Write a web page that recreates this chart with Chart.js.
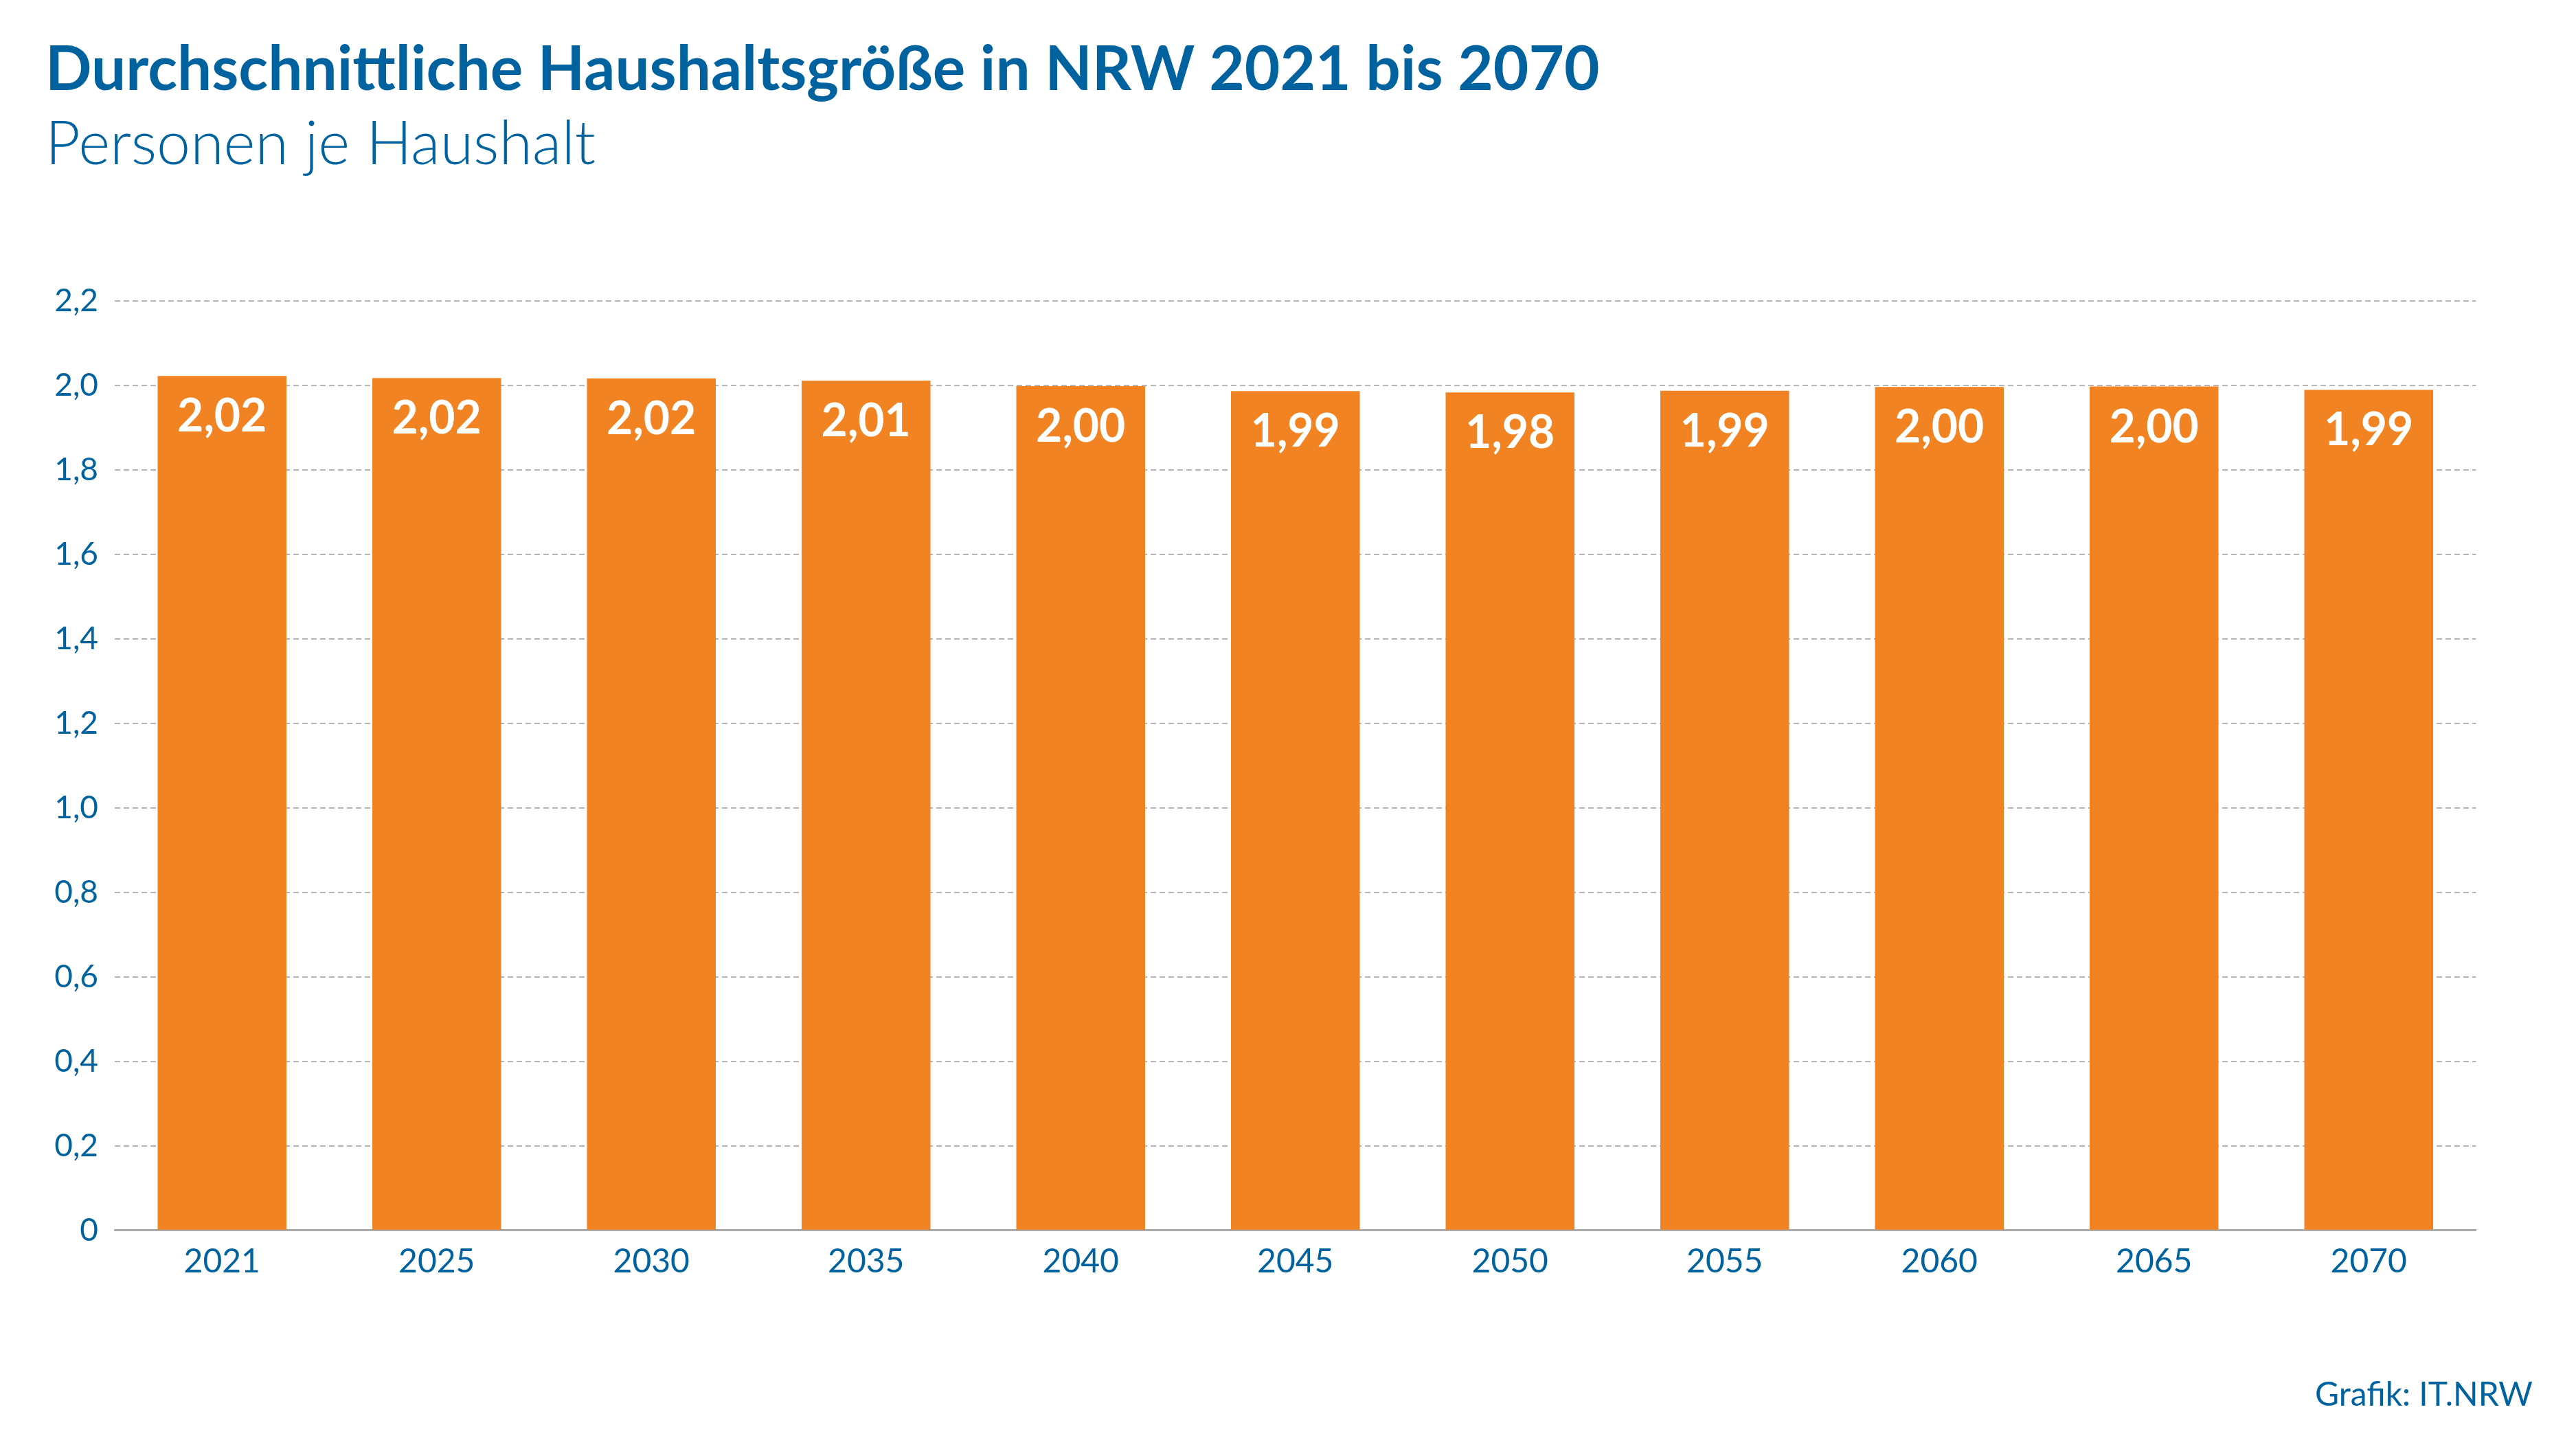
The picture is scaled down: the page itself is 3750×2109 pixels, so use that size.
<!DOCTYPE html>
<html lang="de">
<head>
<meta charset="utf-8">
<script src="https://cdn.jsdelivr.net/npm/chart.js@4/dist/chart.umd.min.js"></script>
<style>
  html, body { margin: 0; padding: 0; background: #ffffff; }
  body { width: 3750px; height: 2109px; position: relative; overflow: hidden; font-family: Lato, "Open Sans", sans-serif; }
  #chart { position: absolute; left: 0; top: 0; }
  .txt { position: absolute; color: #0063a0; white-space: nowrap; line-height: 1; }
  #title { left: 66px; top: 52px; font-size: 89px; font-weight: 700; }
  #subtitle { left: 66px; top: 161px; font-size: 88px; font-weight: 300; }
  #source { right: 63px; top: 2004px; font-size: 48px; font-weight: 400; }
</style>
</head>
<body>
<canvas id="chart" width="3750" height="2109"></canvas>
<div class="txt" id="title">Durchschnittliche Haushaltsgröße in NRW 2021 bis 2070</div>
<div class="txt" id="subtitle">Personen je Haushalt</div>
<div class="txt" id="source">Grafik: IT.NRW</div>
<script>
const categories = ["2021", "2025", "2030", "2035", "2040", "2045", "2050", "2055", "2060", "2065", "2070"];
const householdSize = [2.022, 2.017, 2.016, 2.011, 1.998, 1.986, 1.983, 1.987, 1.996, 1.997, 1.989];
const yTickMin = 0;
const yTickMax = 2.2;
const yTickStep = 0.2;

const BLUE = '#0063a0';
const ORANGE = '#f28322';

const fmt = (v, d) => v.toFixed(d).replace('.', ',');

const valueLabels = {
  id: 'valueLabels',
  afterDatasetsDraw(chart) {
    const ctx = chart.ctx;
    const meta = chart.getDatasetMeta(0);
    ctx.save();
    ctx.fillStyle = '#ffffff';
    ctx.font = '700 66px Lato, "Open Sans", sans-serif';
    ctx.textAlign = 'center';
    ctx.textBaseline = 'alphabetic';
    meta.data.forEach((bar, i) => {
      const v = chart.data.datasets[0].data[i];
      ctx.fillText(fmt(v, 2), bar.x, bar.y + 81);
    });
    ctx.restore();
  }
};

new Chart(document.getElementById('chart'), {
  type: 'bar',
  data: {
    labels: categories,
    datasets: [{
      data: householdSize,
      backgroundColor: ORANGE,
      borderWidth: 0,
      categoryPercentage: 1.0,
      barPercentage: 0.6
    }]
  },
  options: {
    responsive: false,
    animation: false,
    devicePixelRatio: 1,
    layout: { padding: { top: 437.7, left: 0, right: 145.5, bottom: 218.3 } },
    plugins: { legend: { display: false }, tooltip: { enabled: false }, title: { display: false } },
    scales: {
      x: {
        grid: { display: false, drawTicks: false },
        border: { display: true, color: '#aaaaaa', width: 3 },
        ticks: { color: BLUE, padding: 17, font: { family: 'Lato, "Open Sans", sans-serif', size: 48 } },
        afterFit(scale) { scale.height = 100; }
      },
      y: {
        min: yTickMin,
        max: yTickMax,
        grid: {
          drawTicks: false,
          lineWidth: 2,
          color: (c) => (c.tick && c.tick.value === 0) ? 'rgba(0,0,0,0)' : '#b5b5b5'
        },
        border: { display: false, dash: [8, 5] },
        ticks: {
          stepSize: yTickStep,
          color: BLUE,
          padding: 24,
          font: { family: 'Lato, "Open Sans", sans-serif', size: 46 },
          callback: (v) => v === 0 ? '0' : fmt(v, 1)
        },
        afterFit(scale) { scale.width = 167; }
      }
    }
  },
  plugins: [valueLabels]
});
</script>
</body>
</html>
